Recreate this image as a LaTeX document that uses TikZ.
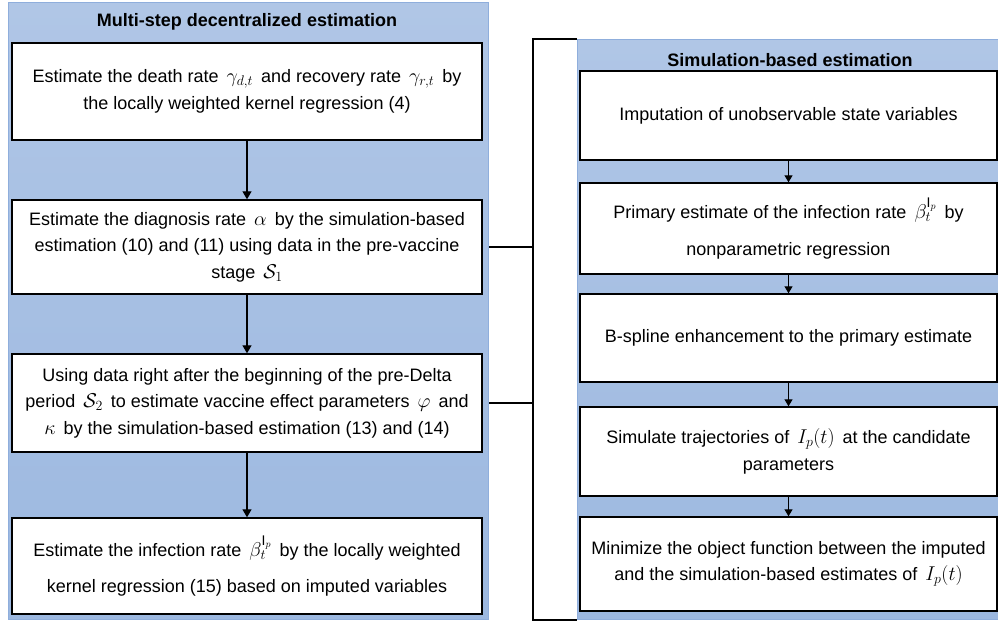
\RequirePackage{fix-cm}
\documentclass[tikz,border=0pt]{standalone}
\usepackage{fontspec}
\setmainfont{Liberation Sans}
\usetikzlibrary{arrows.meta}
\definecolor{paneltop}{HTML}{B0C6E6}
\definecolor{panelbot}{HTML}{9CB8E0}
\definecolor{paneledge}{HTML}{8FAEDC}
\newcommand\mth[1]{{\fontsize{20}{20}\selectfont$#1$}}
\begin{document}
\begin{tikzpicture}[x=1pt,y=-1pt,
  panel/.style={draw=paneledge, line width=1pt, top color=paneltop, bottom color=panelbot, inner sep=0pt, anchor=north west},
  box/.style={draw=black, line width=1.4pt, fill=white, align=center, inner sep=0pt, font=\fontsize{18}{26.5}\selectfont},
  lbox/.style={box, minimum width=470pt},
  rbox/.style={box, minimum width=417pt},
  paneltitle/.style={font=\fontsize{18}{20}\selectfont\bfseries, inner sep=0pt},
  arr/.style={line width=1.2pt, -{Triangle[length=8pt,width=9pt]}},
  rarr/.style={line width=1.2pt, -{Triangle[length=7pt,width=8pt]}},
  link/.style={line width=1.5pt}]
\useasboundingbox (0,0) rectangle (998,621);
% panels
\node[panel, minimum width=480pt, minimum height=617pt] (lpanel) at (8,2) {};
\node[panel, minimum width=421pt, minimum height=580pt] (rpanel) at (577,39) {};
% titles
\node[paneltitle] (ltitle) at (247,22) {Multi-step decentralized estimation};
\node[paneltitle] (rtitle) at (790,60) {Simulation-based estimation};
% left boxes
\node[lbox, minimum height=97pt] (L1) at (247,91.5) {Estimate the death rate \,\mth{\gamma_{d,t}}\, and recovery rate \,\mth{\gamma_{r,t}}\, by\\ the locally weighted kernel regression (4)};
\node[lbox, minimum height=94pt] (L2) at (247,247) {Estimate the diagnosis rate \,\mth{\alpha}\, by the simulation-based\\ estimation (10) and (11) using data in the pre-vaccine\\ stage \,\mth{\mathcal{S}_1}};
\node[lbox, minimum height=98pt] (L3) at (247,403) {Using data right after the beginning of the pre-Delta\\ period \,\mth{\mathcal{S}_2}\, to estimate vaccine effect parameters \,\mth{\varphi}\, and\\ \mth{\kappa}\, by the simulation-based estimation (13) and (14)};
\node[lbox, minimum height=96pt] (L4) at (247,566) {Estimate the infection rate \,\mth{\beta_t^{\mathrm{I}_p}}\, by the locally weighted\\[9pt] kernel regression (15) based on imputed variables};
% right boxes
\node[rbox, minimum height=89pt] (R1) at (788.5,115.5) {Imputation of unobservable state variables};
\node[rbox, minimum height=91pt] (R2) at (788.5,228.5) {Primary estimate of the infection rate \,\mth{\beta_t^{\mathrm{I}_p}}\, by\\[10pt] nonparametric regression};
\node[rbox, minimum height=88pt] (R3) at (788.5,338) {B-spline enhancement to the primary estimate};
\node[rbox, minimum height=89pt] (R4) at (788.5,451.5) {Simulate trajectories of \,\mth{I_p(t)}\, at the candidate\\ parameters};
\node[rbox, minimum height=94pt] (R5) at (788.5,564) {Minimize the object function between the imputed\\ and the simulation-based estimates of \,\mth{I_p(t)}};
% arrows
\draw[arr] (L1) -- (L2);
\draw[arr] (L2) -- (L3);
\draw[arr] (L3) -- (L4);
\draw[rarr] (R1) -- (R2);
\draw[rarr] (R2) -- (R3);
\draw[rarr] (R3) -- (R4);
\draw[rarr] (R4) -- (R5);
% bracket and links
\coordinate (bx) at (533,0);
\draw[link] (rpanel.north west) -- (bx |- rpanel.north west) -- (bx |- rpanel.south west) -- (rpanel.south west);
\draw[link] (lpanel.east |- L2) -- (bx |- L2);
\draw[link] (lpanel.east |- L3) -- (bx |- L3);
\end{tikzpicture}
\end{document}
